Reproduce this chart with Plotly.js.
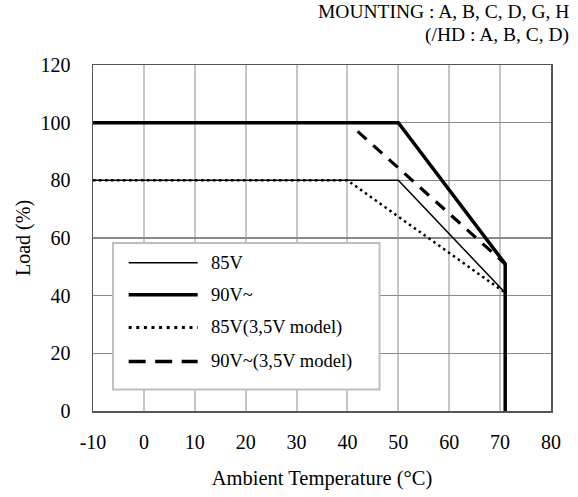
<!DOCTYPE html>
<html>
<head>
<meta charset="utf-8">
<script src="https://cdn.plot.ly/plotly-3.0.1.min.js"></script>
<style>html,body{margin:0;padding:0;background:#fff;}#chart{width:578px;height:497px;}</style>
</head>
<body>
<div id="chart"></div>
<script>
// ---- data ----
const seriesNames = ["85V", "90V~", "85V(3,5V model)", "90V~(3,5V model)"];
const x85 = [-10, 50, 71];
const y85 = [80, 80, 41];
const x90 = [-10, 50, 71, 71];
const y90 = [100, 100, 51, 0];
const x85m = [-10, 40, 71];
const y85m = [80, 80, 41];
const x90m = [42, 71];
const y90m = [97, 51];
const xTickVals = [-10, 0, 10, 20, 30, 40, 50, 60, 70, 80];
const xTickText = ["-10", "0", "10", "20", "30", "40", "50", "60", "70", "80"];
const yTickVals = [0, 20, 40, 60, 80, 100, 120];
const yTickText = ["0", "20", "40", "60", "80", "100", "120"];
const noteLines = ["MOUNTING : A, B, C, D, G, H", "(/HD : A, B, C, D)"];

// ---- styles ----
const FONT = "Liberation Serif, Times New Roman, serif";
const styles = [
  {color: "#000", width: 1.5, dash: "solid"},
  {color: "#000", width: 3.5, dash: "solid"},
  {color: "#000", width: 2.5, dash: "2.5px,3.5px"},
  {color: "#000", width: 3.2, dash: "12px,9px"}
];
const xs = [x85, x90, x85m, x90m];
const ys = [y85, y90, y85m, y90m];

const traces = seriesNames.map((n, i) => ({
  type: "scatter", mode: "lines", name: n, x: xs[i], y: ys[i],
  line: styles[i], showlegend: false, hoverinfo: "skip"
}));

// manual legend (long line samples like the reference)
const legBox = {x0: 0.0437, x1: 0.6257, y0: 0.062, y1: 0.4854};
const rowY = [0.4286, 0.3362, 0.2410, 0.1429];
const shapes = [{
  type: "rect", xref: "paper", yref: "paper",
  x0: legBox.x0, x1: legBox.x1, y0: legBox.y0, y1: legBox.y1,
  fillcolor: "#fff", line: {color: "#bfbfbf", width: 2}, layer: "above"
}];
const annotations = [];
const legendDash = ["solid", "solid", "3px,4.6px", "17px,9.5px"];
const legendWidth = [1.5, 3.5, 3, 3.5];
seriesNames.forEach((n, i) => {
  shapes.push({
    type: "line", xref: "paper", yref: "paper",
    x0: 0.0779, x1: 0.2285, y0: rowY[i], y1: rowY[i],
    line: {color: "#000", width: legendWidth[i], dash: legendDash[i]}, layer: "above"
  });
  annotations.push({
    xref: "paper", yref: "paper", x: 0.2526, y: rowY[i],
    xanchor: "left", yanchor: "middle", showarrow: false, text: n,
    font: {family: FONT, size: 18.5, color: "#000"}
  });
});
noteLines.forEach((t, i) => {
  annotations.push({
    xref: "paper", yref: "paper", x: 1.044, y: [1.155, 1.088][i],
    xanchor: "right", yanchor: "middle", showarrow: false, text: t,
    font: {family: FONT, size: 19.5, color: "#000"}
  });
});

const layout = {
  width: 578, height: 497,
  margin: {l: 93, r: 26.5, t: 65, b: 85.5, pad: 0},
  paper_bgcolor: "#fff", plot_bgcolor: "#fff",
  font: {family: FONT, size: 20, color: "#000"},
  showlegend: false,
  xaxis: {
    range: [-10, 80], tickmode: "array", tickvals: xTickVals, ticktext: xTickText,
    showgrid: true, gridcolor: "#c6c6c6", gridwidth: 2,
    showline: true, linecolor: "#555", linewidth: 1.5, mirror: true,
    zeroline: false, ticks: "", ticklabelstandoff: 12,
    title: {text: "Ambient Temperature (°C)", font: {family: FONT, size: 20.5}, standoff: 19}
  },
  yaxis: {
    range: [0, 120], tickmode: "array", tickvals: yTickVals, ticktext: yTickText,
    showgrid: true, gridcolor: "#8a8a8a", gridwidth: 1.2,
    showline: true, linecolor: "#555", linewidth: 1.5, mirror: true,
    zeroline: false, ticks: "", ticklabelstandoff: 17,
    title: {text: "Load (%)", font: {family: FONT, size: 20}, standoff: 4}
  },
  shapes: shapes,
  annotations: annotations
};

Plotly.newPlot("chart", traces, layout, {staticPlot: true, displayModeBar: false});
</script>
</body>
</html>
